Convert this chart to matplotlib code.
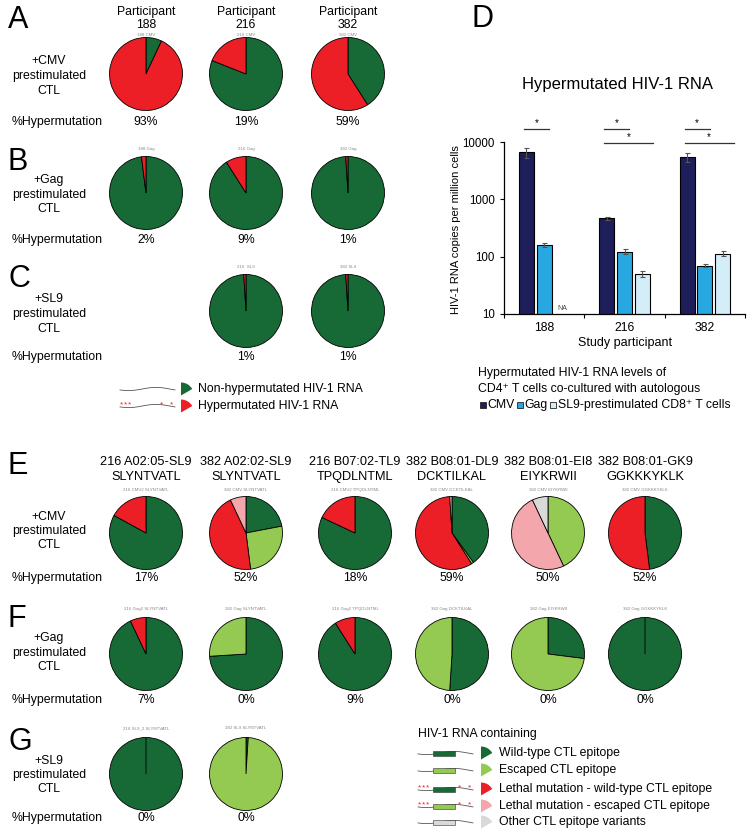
import numpy as np
import matplotlib.pyplot as plt
from matplotlib.patches import Wedge, Rectangle

plt.rcParams['font.family'] = ['Liberation Sans', 'DejaVu Sans']

W, H = 754, 839

pal = {'wt': '#176a36', 'esc': '#94c952', 'lwt': '#ec1f27',
       'lesc': '#f4a6ad', 'oth': '#d9d9d9'}

# ---- paneles A-C ----
participantes = ['188', '216', '382']
a_vals = [[7, 93], [81, 19], [41, 59]]
a_hyp = ['93%', '19%', '59%']
a_tags = ['188 CMV', '216 CMV', '382 CMV']
b_vals = [[98, 2], [91, 9], [99, 1]]
b_hyp = ['2%', '9%', '1%']
b_tags = ['188 Gag', '216 Gag', '382 Gag']
c_vals = [[99, 1], [99, 1]]
c_hyp = ['1%', '1%']
c_tags = ['216  SL9', '382 SL9']

# ---- panel D ----
grupos = ['188', '216', '382']
d_cmv = [6600, 464, 5450]
d_cmv_err = [1300, 25, 900]
d_gag = [162, 122, 70]
d_gag_err = [14, 12, 4]
d_sl9 = [np.nan, 50, 113]
d_sl9_err = [np.nan, 6, 12]

# ---- paneles E-G ----
epitopos = ['216 A02:05-SL9', '382 A02:02-SL9', '216 B07:02-TL9',
            '382 B08:01-DL9', '382 B08:01-EI8', '382 B08:01-GK9']
secuencias = ['SLYNTVATL', 'SLYNTVATL', 'TPQDLNTML', 'DCKTILKAL', 'EIYKRWII', 'GGKKKYKLK']
e_vals = [[83, 17], [22, 26, 45, 7], [82, 18], [40, 1, 58, 1], [43, 50, 7], [48, 52]]
e_cats = [['wt', 'lwt'], ['wt', 'esc', 'lwt', 'lesc'], ['wt', 'lwt'],
          ['wt', 'esc', 'lwt', 'lesc'], ['esc', 'lesc', 'oth'], ['wt', 'lwt']]
e_hyp = ['17%', '52%', '18%', '59%', '50%', '52%']
e_tags = ['216 CMV2 SLYNTVATL', '382 CMV SLYNTVATL', '216 CMV2 TPQDLNTML',
          '382 CMV DCKTILKAL', '382 CMV EIYKRWII', '382 CMV GGKKKYKLK']
f_vals = [[93, 7], [74, 26], [91, 9], [51, 49], [27, 73], [100, 0]]
f_cats = [['wt', 'lwt'], ['wt', 'esc'], ['wt', 'lwt'], ['wt', 'esc'], ['wt', 'esc'], ['wt', 'wt']]
f_hyp = ['7%', '0%', '9%', '0%', '0%', '0%']
f_tags = ['216 Gag2 SLYNTVATL', '382 Gag SLYNTVATL', '216 Gag2 TPQDLNTML',
          '382 Gag DCKTILKAL', '382 Gag EIYKRWII', '382 Gag GGKKKYKLK']
g_vals = [[100, 0], [1, 99]]
g_cats = [['wt', 'wt'], ['wt', 'esc']]
g_hyp = ['0%', '0%']
g_tags = ['216 SL9_2 SLYNTVATL', '382 SL9 SLYNTVATL']

leyenda_eg = ['Wild-type CTL epitope', 'Escaped CTL epitope',
              'Lethal mutation - wild-type CTL epitope',
              'Lethal mutation - escaped CTL epitope', 'Other CTL epitope variants']
leyenda_eg_cats = ['wt', 'esc', 'lwt', 'lesc', 'oth']

fig = plt.figure(figsize=(W / 100, H / 100), dpi=100)
ov = fig.add_axes([0, 0, 1, 1], zorder=5)
ov.set_xlim(0, W)
ov.set_ylim(H, 0)
ov.axis('off')
ov.patch.set_alpha(0)

R = 36.5
FS = 8.8


def txt(x, y, s, fs=FS, ha='center', **kw):
    ov.text(x, y, s, fontsize=fs, ha=ha, va='center', **kw)


def pastel(cx, cy, vals, cols):
    r = R * 1.04
    ax = fig.add_axes([(cx - r) / W, (H - cy - r) / H, 2 * r / W, 2 * r / H])
    ax.pie(vals, colors=cols, startangle=90, counterclock=False, radius=1,
           wedgeprops=dict(edgecolor='black', linewidth=0.6))
    ax.set_xlim(-1.04, 1.04)
    ax.set_ylim(-1.04, 1.04)


def rotulo_fila(y, estim):
    txt(49, y - 14.5, estim)
    txt(49, y, 'prestimulated')
    txt(49, y + 14.5, 'CTL')


def marcador(x, y, color):
    ov.add_patch(Wedge((x, y + 6.5), 13, 270, 330, facecolor=color,
                       edgecolor='none'))


def hilo(x0, y, caja=None, estrellas=False):
    xs = np.linspace(x0, x0 + 55, 80)
    ys = y + 1.6 * np.sin((xs - x0) / 55 * 2 * np.pi + 0.6)
    ov.plot(xs, ys, color='#555555', lw=0.6)
    if caja is not None:
        ov.add_patch(Rectangle((x0 + 15, y - 2.5), 22, 5, facecolor=caja,
                               edgecolor='#333333', lw=0.4, zorder=3))
    if estrellas:
        for dx in [2, 6, 10, 42, 51]:
            ov.text(x0 + dx, y - 1, '*', color='#ec1f27', fontsize=6,
                    ha='center', va='center')


# ---- A-C ----
col_ac = [146, 246, 348]
for x, p in zip(col_ac, participantes):
    txt(x, 12, 'Participant')
    txt(x, 25.5, p)

filas_ac = [
    ('A', 20, 74, 34.5, 122, '+CMV', 76, col_ac, a_vals, a_hyp, a_tags),
    ('B', 162, 193, 149, 240, '+Gag', 195, col_ac, b_vals, b_hyp, b_tags),
    ('C', 279, 311, 267, 357, '+SL9', 314, col_ac[1:], c_vals, c_hyp, c_tags),
]
for letra, ly, cy, ty, hy, estim, ry, cols, vals, hyp, tags in filas_ac:
    txt(8, ly, letra, fs=22, ha='left')
    rotulo_fila(ry, estim)
    txt(12, hy, '%Hypermutation', ha='left')
    for x, v, h, t in zip(cols, vals, hyp, tags):
        pastel(x, cy, v, [pal['wt'], pal['lwt']])
        txt(x, hy, h)
        txt(x, ty, t, fs=3.2, color='#888888')

hilo(120, 389)
marcador(181, 389, pal['wt'])
txt(198, 389, 'Non-hypermutated HIV-1 RNA', ha='left')
hilo(120, 406, estrellas=True)
marcador(181, 406, pal['lwt'])
txt(198, 406, 'Hypermutated HIV-1 RNA', ha='left')

# ---- D ----
txt(472, 19, 'D', fs=22, ha='left')
txt(617, 85, 'Hypermutated HIV-1 RNA', fs=12)
axd = fig.add_axes([504 / W, (H - 314) / H, 241 / W, 172 / H])
x = np.arange(len(grupos))
ancho = 0.19
series = [(d_cmv, d_cmv_err, '#1e1e5a', -0.22),
          (d_gag, d_gag_err, '#28a8e0', 0.0),
          (d_sl9, d_sl9_err, '#d4eef9', 0.22)]
for vals, errs, color, off in series:
    vals = np.array(vals, float)
    errs = np.array(errs, float)
    ok = ~np.isnan(vals)
    axd.bar(x[ok] + off, vals[ok], ancho, color=color, edgecolor='black',
            linewidth=0.8, yerr=errs[ok],
            error_kw=dict(ecolor='#555555', elinewidth=0.8, capsize=1.8, capthick=0.8))
axd.set_yscale('log')
axd.set_ylim(10, 10000)
axd.set_xlim(-0.5, 2.5)
axd.set_yticks([10, 100, 1000, 10000])
axd.set_yticklabels(['10', '100', '1000', '10000'], fontsize=8.3)
axd.yaxis.set_minor_locator(plt.NullLocator())
axd.set_xticks(x)
axd.set_xticklabels(grupos, fontsize=8.8)
axd.tick_params(axis='x', which='major', length=0, pad=6)
axd.set_xticks([-0.5, 0.5, 1.5, 2.5], minor=True)
axd.tick_params(axis='x', which='minor', length=3, width=0.8)
axd.tick_params(axis='y', length=3, width=0.8)
for s in ['top', 'right']:
    axd.spines[s].set_visible(False)
for s in ['left', 'bottom']:
    axd.spines[s].set_linewidth(0.9)
axd.patch.set_alpha(0)

# significancia: (grupo, inicio, fin, nivel)
signif = [(0, -0.22, 0.0, 17000), (1, -0.22, 0.0, 17000), (1, -0.22, 0.22, 9600),
          (2, -0.22, 0.0, 17000), (2, -0.22, 0.22, 9600)]
for g, a, b, nivel in signif:
    x0, x1 = g + a - 0.03, g + b + (0.06 if b < 0.1 else 0.14)
    axd.plot([x0, x1], [nivel, nivel], color='#333333', lw=0.9, clip_on=False)
    axd.text((x0 + x1) / 2, nivel * 1.03, '*', fontsize=7, ha='center',
             va='bottom', clip_on=False)
axd.text(0.22, 11, 'NA', fontsize=5, ha='center', va='bottom', color='#444444')

txt(456, 230, 'HIV-1 RNA copies per million cells', fs=8, rotation=90)
txt(625, 343, 'Study participant', fs=9)
txt(478, 373, 'Hypermutated HIV-1 RNA levels of', ha='left')
txt(478, 389, 'CD4\u207a T cells co-cultured with autologous', ha='left')
for sx, col, lab in [(480, '#1e1e5a', 'CMV'), (517, '#28a8e0', 'Gag'),
                     (550, '#d4eef9', 'SL9-prestimulated CD8\u207a T cells')]:
    ov.add_patch(Rectangle((sx, 402), 6, 6, facecolor=col, edgecolor='#222222', lw=0.6))
    txt(sx + 7.5, 405, lab, ha='left')

# ---- E-G ----
col_eg = [146, 246, 355, 452, 548, 645]
for xc, ep, sq in zip(col_eg, epitopos, secuencias):
    txt(xc, 462, ep, fs=9.2)
    txt(xc, 477, sq, fs=9.2)

filas_eg = [
    ('E', 466, 533, 490, 578, '+CMV', 531, col_eg, e_vals, e_cats, e_hyp, e_tags),
    ('F', 619, 654, 609, 700, '+Gag', 653, col_eg, f_vals, f_cats, f_hyp, f_tags),
    ('G', 742, 774, 728, 818, '+SL9', 775, col_eg[:2], g_vals, g_cats, g_hyp, g_tags),
]
for letra, ly, cy, ty, hy, estim, ry, cols, vals, cats, hyp, tags in filas_eg:
    txt(8, ly, letra, fs=22, ha='left')
    rotulo_fila(ry, estim)
    txt(12, hy, '%Hypermutation', ha='left')
    for xc, v, c, h, t in zip(cols, vals, cats, hyp, tags):
        pastel(xc, cy, v, [pal[k] for k in c])
        txt(xc, hy, h)
        txt(xc, ty, t, fs=3.2, color='#888888')

txt(418, 734, 'HIV-1 RNA containing', ha='left')
for y, lab, k in zip([753, 770, 789, 806, 822], leyenda_eg, leyenda_eg_cats):
    hilo(418, y, caja=pal['esc'] if k in ('esc', 'lesc') else
         (pal['oth'] if k == 'oth' else pal['wt']),
         estrellas=k in ('lwt', 'lesc'))
    marcador(481, y, pal[k])
    txt(499, y, lab, ha='left')

fig.savefig('out.png', dpi=100)
